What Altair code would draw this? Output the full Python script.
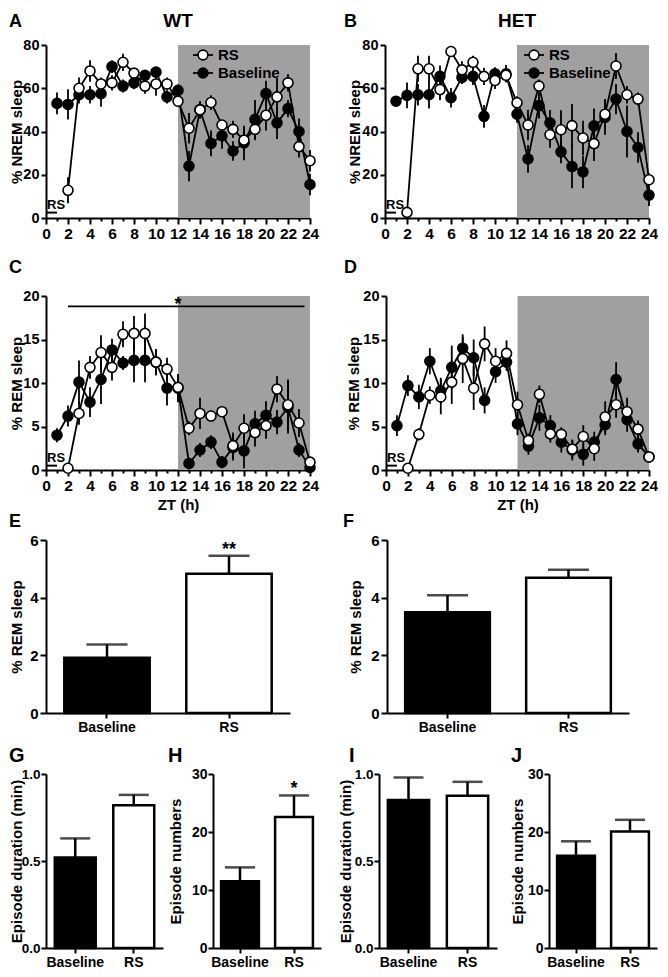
import altair as alt
import pandas as pd

FONT = "Liberation Sans"
GRAY = "#a0a0a0"

conditions = ["Baseline", "RS"]
series_order = ["RS", "Baseline"]
base_hours = list(range(1, 25))
rs_hours = list(range(2, 25))
night = [12, 24]

# A: WT, % NREM sleep
wt_nrem_base = [53, 52.5, 57, 57, 57.5, 70, 61, 62.5, 66, 67.5, 56, 59, 24, 50, 34.5, 38, 31, 34.7, 45.6, 57.5, 44, 50.6, 40, 15.5]
wt_nrem_base_err = [5, 7, 4, 4, 6, 3, 3, 3, 2.3, 2.3, 3, 2.7, 7, 4, 6, 6, 4.5, 8, 9, 6, 7.5, 4, 6, 5]
wt_nrem_rs = [12.8, 60, 68, 62, 62.5, 72, 67, 61, 62, 62, 54, 41.5, 50, 53.4, 43, 41, 36, 41, 47.5, 56, 62.5, 33, 26.5]
wt_nrem_rs_err = [6, 5, 5, 3, 3.5, 4, 2.3, 3.5, 5.5, 3, 2.7, 7, 4, 3.4, 2.3, 4, 5, 5, 7, 8.7, 4, 5, 5]

# B: HET, % NREM sleep
het_nrem_base = [54, 56.7, 57, 57, 65.5, 55.6, 65, 65.5, 47, 66.7, 66.7, 48, 27.3, 52, 44, 30.6, 23.8, 21.3, 42.6, 46.5, 55, 40, 32.6, 10.6]
het_nrem_base_err = [2, 6, 5, 6.4, 5, 4.5, 3, 4, 5.3, 3, 4, 4, 6.4, 6, 6, 5.3, 10, 7.5, 8, 8, 7, 12, 7, 5]
het_nrem_rs = [2.6, 69, 69, 59.4, 77, 68.5, 72, 65.5, 63.6, 66, 53.3, 43, 61, 38.5, 40.8, 42.7, 37, 34.4, 48, 70.3, 57, 55, 17.7]
het_nrem_rs_err = [1, 6, 6, 5, 2, 4, 3, 4, 4, 3, 3, 7, 3, 6, 9, 10, 8, 8, 7, 6, 4, 3, 3]

# C: WT, % REM sleep
wt_rem_base = [4.0, 6.2, 10.1, 7.8, 10.4, 13.8, 12.3, 12.6, 12.6, 12.4, 9.4, 9.4, 0.75, 2.3, 3.2, 0.9, 2.6, 2.2, 5.3, 6.3, 5.5, 7.2, 2.3, 0.3]
wt_rem_base_err = [0.8, 1.2, 2.5, 1.7, 2.8, 1.3, 0.8, 2.5, 2.5, 1.5, 2, 1.6, 0.7, 0.8, 0.8, 0.7, 1.5, 2, 1.5, 1.6, 1.4, 3, 0.8, 0.5]
wt_rem_rs = [0.2, 6.5, 11.8, 13.5, 11.8, 15.6, 15.7, 15.7, 12.4, 11.6, 9.5, 4.8, 6.5, 6.2, 6.7, 2.8, 4.8, 4.3, 5.1, 9.3, 7.5, 5.4, 0.9]
wt_rem_rs_err = [0.2, 1.3, 1.3, 2, 1.5, 1.5, 2, 2.3, 1.5, 1.3, 1.5, 0.8, 1.8, 0.6, 0.5, 1.5, 1.6, 1.6, 1.5, 1.5, 2.9, 1.6, 0.4]

# D: HET, % REM sleep
het_rem_base = [5.1, 9.7, 8.4, 12.5, 9.1, 11.8, 14.0, 12.9, 8.0, 11.3, 12.4, 5.3, 2.75, 6.0, 5.1, 3.2, 2.3, 1.8, 3.2, 5.2, 10.4, 5.8, 3.0, 1.5]
het_rem_base_err = [1.2, 1.2, 1.4, 1.5, 1.5, 2.5, 1.3, 2.1, 1.5, 1.3, 1, 1.3, 1, 1.5, 1.2, 1.2, 1.2, 1.3, 1.2, 1.2, 2, 1.4, 1, 0.5]
het_rem_rs = [0.2, 4.1, 8.6, 8.4, 10.1, 12.8, 9.4, 14.5, 12.5, 13.4, 7.5, 3.4, 8.7, 4.15, 4.1, 2.4, 3.85, 2.45, 6.1, 7.5, 6.7, 4.7, 1.5]
het_rem_rs_err = [0.2, 0.7, 1, 2, 2.5, 2.8, 2.5, 2, 1.5, 1.5, 1.5, 0.8, 1, 1, 0.8, 1, 1.3, 1.4, 1.8, 1.5, 1.6, 1, 0.5]

# E-J bar panels: [Baseline, RS]
e_rem = [1.92, 4.83]
e_rem_err = [0.46, 0.62]
f_rem = [3.49, 4.69]
f_rem_err = [0.59, 0.28]
g_dur = [0.52, 0.82]
g_dur_err = [0.11, 0.06]
h_num = [11.5, 22.6]
h_num_err = [2.4, 3.7]
i_dur = [0.85, 0.875]
i_dur_err = [0.13, 0.08]
j_num = [15.9, 20.1]
j_num_err = [2.5, 2.0]

legend_labels = ["RS", "Baseline"]


def axis_style(label_size=15, label_pad=2):
    return dict(domainColor="black", domainWidth=2, tickColor="black", tickWidth=2,
                labelFont=FONT, labelFontSize=label_size, labelFontWeight="bold", labelColor="black",
                titleFont=FONT, titleFontSize=15, titleFontWeight="bold", titleColor="black",
                grid=False, labelPadding=label_pad)


def txt(label, x, y, size, align="left", baseline="top"):
    return alt.Chart(pd.DataFrame({"t": [label]})).mark_text(
        font=FONT, fontSize=size, fontWeight="bold", color="black",
        align=align, baseline=baseline
    ).encode(x=alt.value(x), y=alt.value(y), text="t:N")


def pad(y, baseline="bottom"):
    return alt.Chart(pd.DataFrame({"t": [" "]})).mark_text(
        fontSize=2, baseline=baseline, color="white"
    ).encode(x=alt.value(0), y=alt.value(y), text="t:N")


def legend_layers(cx):
    out = []
    for i, (lab, col) in enumerate(zip(legend_labels, ["white", "black"])):
        cy = 10 + 18 * i
        d = pd.DataFrame({"t": [lab]})
        out.append(alt.Chart(d).mark_rule(color="black", strokeWidth=1.8).encode(
            x=alt.value(cx - 10), x2=alt.value(cx + 10), y=alt.value(cy)))
        out.append(alt.Chart(d).mark_point(filled=True, shape="circle", size=95, fill=col,
                                           stroke="black", strokeWidth=1.6, opacity=1).encode(
            x=alt.value(cx), y=alt.value(cy)))
        out.append(alt.Chart(d).mark_text(font=FONT, fontSize=15, fontWeight="bold", color="black",
                                          align="left", baseline="middle").encode(
            x=alt.value(cx + 15), y=alt.value(cy), text="t:N"))
    return out


def line_panel(base, base_err, rs, rs_err, ymax, yvals, ytitle, title_x, letter, letter_x, letter_y,
               header, legend_x, xtitle, rs_y, W, H, bottom_pad, star_y=None):
    df = pd.DataFrame({
        "hour": base_hours + rs_hours,
        "value": base + rs,
        "err": base_err + rs_err,
        "series": ["Baseline"] * len(base) + ["RS"] * len(rs),
    })
    df["lo"] = (df["value"] - df["err"]).clip(lower=0)
    df["hi"] = df["value"] + df["err"]

    xscale = alt.Scale(domain=[0, 24], nice=False, zero=False)
    yscale = alt.Scale(domain=[0, ymax], nice=False)
    xaxis = alt.Axis(values=list(range(25)),
                     labelExpr="datum.value % 2 === 0 ? datum.label : ''",
                     tickSize={"condition": {"test": "datum.value % 2 === 0", "value": 6}, "value": 3},
                     labelFlush=False, labelOverlap=False, title=xtitle, titlePadding=4,
                     **axis_style(15.5))
    yaxis = alt.Axis(values=yvals, title=ytitle, tickSize=5, titleX=title_x, titleBaseline="top",
                     **axis_style(14.5))

    def X(f):
        return alt.X(f, type="quantitative", scale=xscale, axis=xaxis)

    def Y(f):
        return alt.Y(f, type="quantitative", scale=yscale, axis=yaxis)

    nightdf = pd.DataFrame({"s": [night[0]], "e": [night[1]], "y0": [0], "y1": [ymax]})
    rect = alt.Chart(nightdf).mark_rect(color=GRAY).encode(x=X("s"), x2="e", y=Y("y0"), y2="y1")
    err = alt.Chart(df).mark_rule(color="black", strokeWidth=1.8).encode(x=X("hour"), y=Y("lo"), y2="hi")
    line = alt.Chart(df).mark_line(color="black", strokeWidth=1.8).encode(
        x=X("hour"), y=Y("value"), detail="series:N")
    pts = alt.Chart(df).mark_point(filled=True, shape="circle", size=100, stroke="black",
                                   strokeWidth=1.6, opacity=1).encode(
        x=X("hour"), y=Y("value"),
        fill=alt.Fill("series:N", scale=alt.Scale(domain=series_order, range=["white", "black"]),
                      legend=None))
    rsdf = pd.DataFrame({"x0": [0], "x1": [1], "y": [rs_y], "t": ["RS"]})
    rs_rule = alt.Chart(rsdf).mark_rule(color="black", strokeWidth=2).encode(
        x=X("x0"), x2="x1", y=Y("y"))
    rs_text = alt.Chart(rsdf).mark_text(font=FONT, fontSize=13, fontWeight="bold", color="black",
                                        align="left", baseline="bottom", dx=1, dy=-1).encode(
        x=X("x0"), y=Y("y"), text="t:N")
    layers = [rect, err, line, pts, rs_rule, rs_text]
    if star_y is not None:
        sdf = pd.DataFrame({"x0": [2], "x1": [23.5], "xm": [12], "y": [star_y], "t": ["*"]})
        layers.append(alt.Chart(sdf).mark_rule(color="black", strokeWidth=1.8).encode(
            x=X("x0"), x2="x1", y=Y("y")))
        layers.append(alt.Chart(sdf).mark_text(font=FONT, fontSize=18, fontWeight="bold",
                                               color="black", baseline="alphabetic", dy=4).encode(
            x=X("xm"), y=Y("y"), text="t:N"))
    if legend_x is not None:
        layers += legend_layers(legend_x)
    layers.append(txt(letter, letter_x, letter_y, 18))
    if header:
        layers.append(pad(-37, baseline="top"))
        layers.append(txt(header, W / 2, -33, 19, align="center"))
    layers.append(pad(H + bottom_pad))
    return alt.layer(*layers).properties(width=W, height=H)


def bar_panel(vals, errs, ymax, yvals, fmt, ytitle, title_x, letter, letter_x, letter_y, letter_size,
              W, H, capw, bottom_pad=None, star=None, ylab=15, ytick=6, ypad=2):
    df = pd.DataFrame({"cond": conditions, "value": vals, "err": errs})
    df["hi"] = df["value"] + df["err"]
    xscale = alt.Scale(domain=conditions, paddingInner=0.3, paddingOuter=0.15)
    xaxis = alt.Axis(labelAngle=0, title=None, tickSize=5, **axis_style(14))
    yaxis = alt.Axis(values=yvals, format=fmt, title=ytitle, tickSize=ytick, titleX=title_x,
                     titleBaseline="top", **axis_style(ylab, ypad))
    X = alt.X("cond:N", sort=conditions, scale=xscale, axis=xaxis)

    def Y(f):
        return alt.Y(f, type="quantitative", scale=alt.Scale(domain=[0, ymax], nice=False), axis=yaxis)

    bars = alt.Chart(df).mark_bar(stroke="black", strokeWidth=2.5).encode(
        x=X, y=Y("value"),
        fill=alt.condition(alt.datum.cond == "RS", alt.value("white"), alt.value("black")))
    stem = alt.Chart(df).mark_rule(color="black", strokeWidth=2.5).encode(x=X, y=Y("value"), y2="hi")
    cap = alt.Chart(df).mark_tick(color="black", thickness=2.5, size=capw).encode(x=X, y=Y("hi"))
    layers = [bars, stem, cap]
    if star:
        sdf = df[df["cond"] == "RS"].assign(t=star)
        layers.append(alt.Chart(sdf).mark_text(font=FONT, fontSize=18, fontWeight="bold",
                                               color="black", baseline="alphabetic", dy=-1).encode(
            x=X, y=Y("hi"), text="t:N"))
    layers.append(txt(letter, letter_x, letter_y, letter_size))
    if bottom_pad is not None:
        layers.append(pad(H + bottom_pad))
    return alt.layer(*layers).properties(width=W, height=H)


pA = line_panel(wt_nrem_base, wt_nrem_base_err, wt_nrem_rs, wt_nrem_rs_err, 80, [0, 20, 40, 60, 80],
                "% NREM sleep", -37, "A", -37, -32, "WT", 157, None, 2.5, 264, 173, 41)
pB = line_panel(het_nrem_base, het_nrem_base_err, het_nrem_rs, het_nrem_rs_err, 80, [0, 20, 40, 60, 80],
                "% NREM sleep", -38, "B", -41, -32, "HET", 149, None, 2.5, 264, 173, 41)
pC = line_panel(wt_rem_base, wt_rem_base_err, wt_rem_rs, wt_rem_rs_err, 20, [0, 5, 10, 15, 20],
                "% REM sleep", -37, "C", -37, -37, None, None, "ZT (h)", 0.5, 264, 174, 42, star_y=18.8)
pD = line_panel(het_rem_base, het_rem_base_err, het_rem_rs, het_rem_rs_err, 20, [0, 5, 10, 15, 20],
                "% REM sleep", -40, "D", -42, -37, None, None, "ZT (h)", 0.5, 263, 174, 42)
pE = bar_panel(e_rem, e_rem_err, 6, [0, 2, 4, 6], "d", "% REM sleep", -37, "E", -37, -27, 18,
               244, 173, 41, bottom_pad=33, star="**")
pF = bar_panel(f_rem, f_rem_err, 6, [0, 2, 4, 6], "d", "% REM sleep", -39, "F", -44, -27, 18,
               242, 173, 41, bottom_pad=33)
pG = bar_panel(g_dur, g_dur_err, 1.0, [0, 0.5, 1.0], ".1f", "Episode duration (min)", -37, "G", -37, -28, 20,
               117, 174, 30, ylab=13.5, ytick=5, ypad=1)
pH = bar_panel(h_num, h_num_err, 30, [0, 10, 20, 30], "d", "Episode numbers", -45, "H", -45, -28, 20,
               108, 174, 30, ylab=14, ytick=5, ypad=1, star="*")
pI = bar_panel(i_dur, i_dur_err, 1.0, [0, 0.5, 1.0], ".1f", "Episode duration (min)", -41, "I", -30, -28, 20,
               118, 174, 30, ylab=13.5, ytick=5, ypad=1)
pJ = bar_panel(j_num, j_num_err, 30, [0, 10, 20, 30], "d", "Episode numbers", -39, "J", -38, -28, 20,
               108, 174, 30, ylab=14, ytick=5, ypad=1)


def Hc(*charts, spacing):
    return alt.hconcat(*charts, spacing=spacing)


row1 = Hc(pA, pB, spacing=25)
row2 = Hc(pC, pD, spacing=25)
row3 = Hc(pE, pF, spacing=53)
row4 = Hc(Hc(pG, pH, spacing=5), Hc(pI, pJ, spacing=13), spacing=16)

chart = alt.vconcat(row1, row2, row3, row4, spacing=0).configure_view(stroke=None).properties(
    background="white", padding=0)

chart.save("out.html", embed_options={"renderer": "svg", "actions": False})
